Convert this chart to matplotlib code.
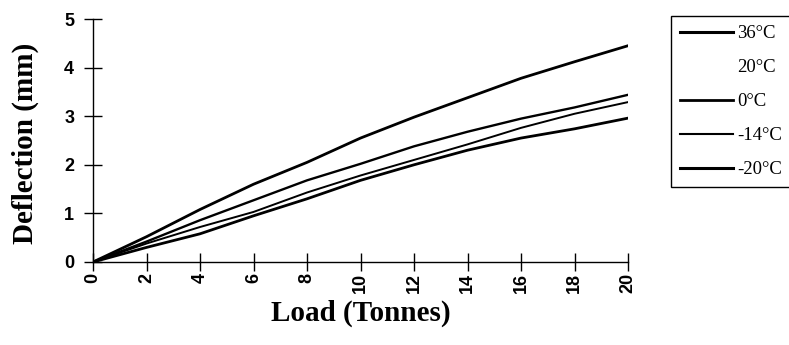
import numpy as np
from matplotlib import pyplot as plt
from matplotlib.lines import Line2D

# load (tonnes) and deflection (mm)
load = [0, 2, 4, 6, 8, 10, 12, 14, 16, 18, 20]
d_36 = [0, 0.52, 1.08, 1.6, 2.05, 2.55, 2.98, 3.38, 3.78, 4.12, 4.45]
d_0 = [0, 0.42, 0.86, 1.27, 1.68, 2.02, 2.38, 2.68, 2.95, 3.18, 3.44]
d_m14 = [0, 0.38, 0.72, 1.03, 1.43, 1.78, 2.1, 2.42, 2.76, 3.05, 3.29]
d_m20 = [0, 0.3, 0.58, 0.95, 1.3, 1.68, 2.0, 2.3, 2.55, 2.74, 2.96]

labels = ['36\u00b0C', '20\u00b0C', '0\u00b0C', '-14\u00b0C', '-20\u00b0C']
xticks = list(range(0, 21, 2))
yticks = [0, 1, 2, 3, 4, 5]

fig = plt.figure(figsize=(7.89, 3.45), dpi=100)
ax = fig.add_axes([93/789, 1-262/345, (628-93)/789, (262-19)/345])

ax.plot(load, d_36, 'k-', lw=2.0)
ax.plot(load, d_0, 'k-', lw=1.7)
ax.plot(load, d_m14, 'k-', lw=1.4)
ax.plot(load, d_m20, 'k-', lw=2.0)

ax.set_xlim(0, 20)
ax.set_ylim(0, 5)
ax.set_xticks(xticks)
ax.set_yticks(yticks)
ax.set_xticklabels([str(t) for t in xticks], rotation=90, fontsize=13,
                   family='Liberation Sans', weight='bold')
ax.set_yticklabels([str(t) for t in yticks], fontsize=13,
                   family='Liberation Sans', weight='bold')
ax.tick_params(direction='inout', length=13, width=1, colors='k')
ax.tick_params(axis='y', pad=7)
ax.tick_params(axis='x', pad=1.5)
for s in ['top', 'right']:
    ax.spines[s].set_visible(False)
for s in ['left', 'bottom']:
    ax.spines[s].set_linewidth(1)

ax.set_xlabel('Load (Tonnes)', family='Liberation Serif', weight='bold', fontsize=21)
ax.set_ylabel('Deflection (mm)', family='Liberation Serif', weight='bold', fontsize=21)
ax.xaxis.set_label_coords(0.5, (262-300)/243)
ax.yaxis.set_label_coords((39-93)/535, 0.49)

handles = [Line2D([], [], color='k', lw=2.2),
           Line2D([], [], color='w', lw=2.0),
           Line2D([], [], color='k', lw=2.0),
           Line2D([], [], color='k', lw=1.5),
           Line2D([], [], color='k', lw=2.2)]
leg = fig.legend(handles, labels, loc='upper left',
                 bbox_to_anchor=(671/789, 1-16/345),
                 prop={'family': 'Liberation Serif', 'size': 13.5},
                 handlelength=2.8, handletextpad=0.25, labelspacing=0.9,
                 borderpad=0.48, borderaxespad=0, fancybox=False, framealpha=1)
leg.get_frame().set_edgecolor('k')
leg.get_frame().set_linewidth(1)

fig.savefig('out.png', dpi=100)
